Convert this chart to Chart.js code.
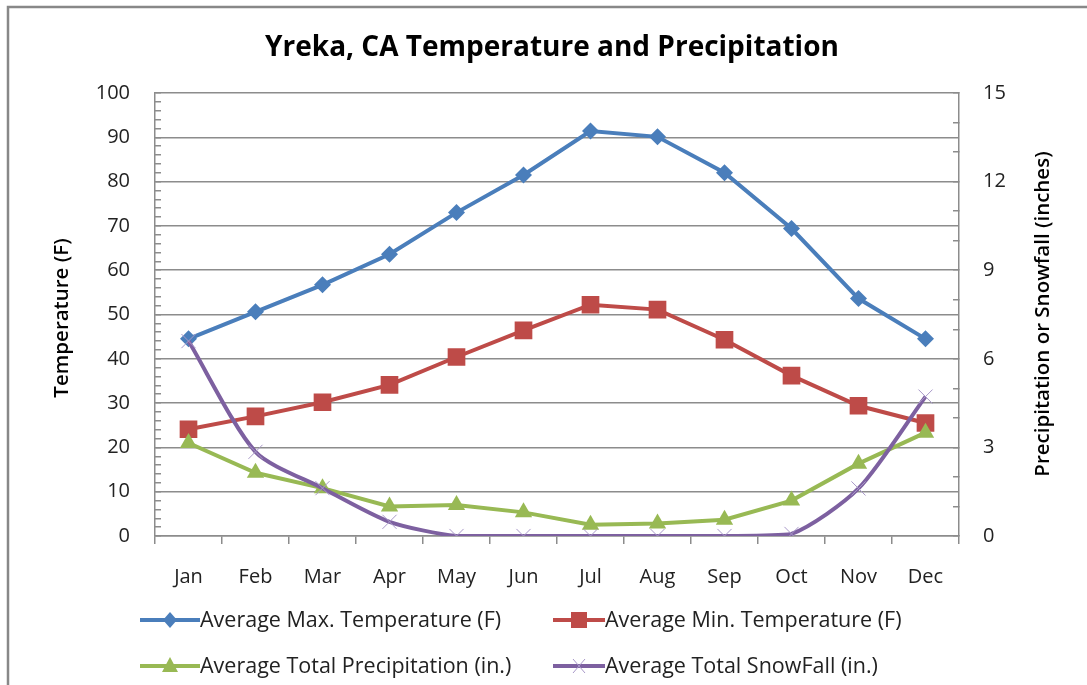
<!DOCTYPE html>
<html>
<head>
<meta charset="utf-8">
<script src="https://cdn.jsdelivr.net/npm/chart.js@4/dist/chart.umd.min.js"></script>
<style>
html,body{margin:0;padding:0;background:#fff}
#wrap{width:1087px;height:685px;position:relative}
</style>
</head>
<body>
<div id="wrap"><canvas id="c" width="1087" height="685"></canvas></div>
<script>
const months=['Jan','Feb','Mar','Apr','May','Jun','Jul','Aug','Sep','Oct','Nov','Dec'];
const maxTemp=[44.5,50.6,56.7,63.6,73.0,81.5,91.4,90.1,82.0,69.4,53.6,44.5];
const minTemp=[24.1,27.0,30.2,34.1,40.4,46.4,52.2,51.1,44.3,36.2,29.4,25.5];
const precip=[3.15,2.14,1.62,1.0,1.05,0.8,0.38,0.42,0.55,1.2,2.45,3.5];
const snow=[6.6,2.85,1.62,0.48,0,0,0,0,0,0.07,1.61,4.72];
const labels=['Average Max. Temperature (F)','Average Min. Temperature (F)','Average Total Precipitation (in.)','Average Total SnowFall (in.)'];

const BLUE='#4a7ebb',RED='#be4b48',GREEN='#98b954',PURPLE='#7d60a0';
const FONT='"Open Sans", "Noto Sans", sans-serif';
const GRID='#8c8c8c';

// title, axis titles, legend, outer frame
const extras={
  id:'extras',
  afterDraw(chart){
    const ctx=chart.ctx;
    ctx.save();
    ctx.strokeStyle='#888';ctx.lineWidth=2.5;
    ctx.strokeRect(8,7,1200,800);
    ctx.fillStyle='#000';
    ctx.textAlign='center';ctx.textBaseline='middle';
    ctx.font='bold 28px '+FONT;
    ctx.fillText('Yreka, CA Temperature and Precipitation',552,48);
    ctx.font='600 20.5px '+FONT;
    ctx.save();ctx.translate(62,318);ctx.rotate(-Math.PI/2);ctx.fillText('Temperature (F)',0,0);ctx.restore();
    ctx.save();ctx.translate(1043,314);ctx.rotate(-Math.PI/2);ctx.fillText('Precipitation or Snowfall (inches)',0,0);ctx.restore();
    // legend
    const items=[
      {x:140,y:620,w:60,c:BLUE,s:'diamond'},
      {x:553,y:620,w:52,c:RED,s:'square'},
      {x:140,y:666,w:60,c:GREEN,s:'triangle'},
      {x:553,y:666,w:52,c:PURPLE,s:'cross'}
    ];
    ctx.font='21.5px '+FONT;ctx.textAlign='left';
    items.forEach((it,i)=>{
      ctx.strokeStyle=it.c;ctx.lineWidth=4;
      ctx.beginPath();ctx.moveTo(it.x,it.y);ctx.lineTo(it.x+it.w,it.y);ctx.stroke();
      const mx=it.x+it.w/2,my=it.y;
      ctx.fillStyle=it.c;
      if(it.s==='diamond'){ctx.beginPath();ctx.moveTo(mx,my-8);ctx.lineTo(mx+7,my);ctx.lineTo(mx,my+8);ctx.lineTo(mx-7,my);ctx.closePath();ctx.fill();}
      if(it.s==='square'){ctx.fillRect(mx-8,my-8,16,16);}
      if(it.s==='triangle'){ctx.beginPath();ctx.moveTo(mx,my-9);ctx.lineTo(mx+8,my+6);ctx.lineTo(mx-8,my+6);ctx.closePath();ctx.fill();}
      if(it.s==='cross'){ctx.strokeStyle='#a898c8';ctx.lineWidth=1;ctx.beginPath();ctx.moveTo(mx-6,my-7);ctx.lineTo(mx+6,my+7);ctx.moveTo(mx+6,my-7);ctx.lineTo(mx-6,my+7);ctx.stroke();}
      ctx.fillStyle='#222';
      ctx.fillText(labels[i],it.x+it.w,it.y+1);
    });
    ctx.restore();
  }
};

new Chart(document.getElementById('c'),{
  type:'line',
  data:{
    labels:months,
    datasets:[
      {label:labels[0],data:maxTemp,yAxisID:'y',borderColor:BLUE,backgroundColor:BLUE,borderWidth:4,pointStyle:'rectRot',pointRadius:8.5,pointBorderWidth:0,tension:0,order:3},
      {label:labels[1],data:minTemp,yAxisID:'y',borderColor:RED,backgroundColor:RED,borderWidth:4,pointStyle:'rect',pointRadius:12.5,pointBorderWidth:0,tension:0,order:2},
      {label:labels[2],data:precip,yAxisID:'y1',borderColor:GREEN,backgroundColor:GREEN,borderWidth:4,pointStyle:'triangle',pointRadius:10,pointBorderWidth:0,tension:0,order:1},
      {label:labels[3],data:snow,yAxisID:'y1',borderColor:PURPLE,backgroundColor:'#a898c8',pointBorderColor:'#a898c8',borderWidth:4,pointStyle:'crossRot',pointRadius:10,pointBorderWidth:1,tension:0.25,order:0}
    ]
  },
  options:{
    responsive:false,animation:false,
    layout:{padding:{top:93,left:0,right:0,bottom:0}},
    plugins:{legend:{display:false},tooltip:{enabled:false},title:{display:false}},
    scales:{
      x:{
        offset:true,
        grid:{offset:true,drawOnChartArea:false,drawTicks:true,tickLength:8,color:GRID,lineWidth:1.5},
        border:{color:GRID,width:1.5},
        ticks:{font:{family:FONT,size:20},color:'#222',padding:21,maxRotation:0},
        afterFit(s){s.height=149;}
      },
      y:{
        position:'left',min:0,max:100,
        ticks:{stepSize:2,autoSkip:false,font:{family:FONT,size:20},color:'#222',padding:31,
          callback:v=>v%10===0?String(v):''},
        grid:{color:c=>c.tick&&c.tick.value%10===0?GRID:'rgba(0,0,0,0)',lineWidth:1.5,tickColor:GRID,tickLength:-6,drawTicks:true},
        border:{color:GRID,width:1.5},
        afterFit(s){s.width=155;}
      },
      y1:{
        position:'right',min:0,max:15,
        ticks:{stepSize:1,autoSkip:false,font:{family:FONT,size:20},color:'#222',padding:30,
          callback:v=>v%3===0?String(v):''},
        grid:{drawOnChartArea:false,tickColor:GRID,tickLength:-6,drawTicks:true,lineWidth:1.5},
        border:{color:GRID,width:1.5},
        afterFit(s){s.width=128;}
      }
    }
  },
  plugins:[extras]
});
</script>
</body>
</html>
